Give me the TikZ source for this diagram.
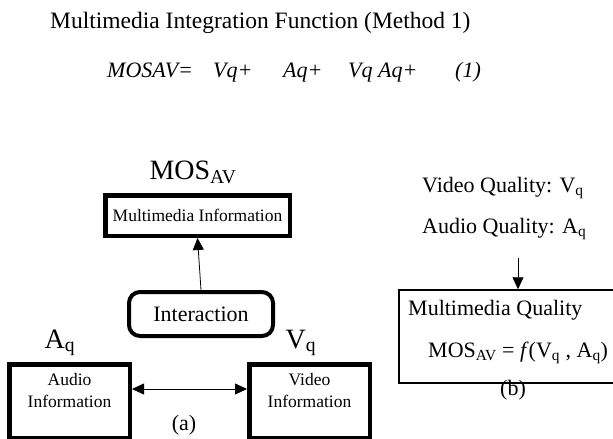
\documentclass[tikz,border=0pt]{standalone}
\usepackage{fontspec}
\setmainfont{Liberation Serif}
\usetikzlibrary{arrows.meta,calc}
\tikzset{
  big/.style={font=\fontsize{22}{26}\selectfont},
  huge/.style={font=\fontsize{28}{32}\selectfont},
  small/.style={font=\fontsize{17.5}{22}\selectfont},
  eq/.style={font=\fontsize{22}{26}\selectfont\itshape, anchor=base west, inner sep=0},
  conn/.style={line width=0.8pt, -{Triangle[width=11pt,length=12pt]}},
  dconn/.style={line width=0.8pt, {Triangle[width=11pt,length=12pt]}-{Triangle[width=11pt,length=12pt]}},
}
\begin{document}
\begin{tikzpicture}[x=1pt,y=-1pt]
\clip (0,0) rectangle (613,439);
\fill[white] (0,0) rectangle (613,439);

% title and equation
\node[font=\fontsize{23.5}{28}\selectfont, anchor=base west, inner sep=0] (title) at (50,28) {Multimedia Integration Function (Method 1)};
\node[eq] (e1) at (107,77) {MOSAV=};
\node[eq] (e2) at (213,77) {Vq+};
\node[eq] (e3) at (283,77) {Aq+};
\node[eq] (e4) at (348,77) {Vq Aq+};
\node[eq] (e5) at (455,77) {(1)};

% (a) part
\node[huge, anchor=base, inner sep=0] (mosl) at (193,179) {MOS\textsubscript{AV}};
\node[draw, line width=4.5pt, minimum width=184.5pt, minimum height=40.5pt, inner sep=0, small] (mmi) at (197.5,215.5) {Multimedia Information};
\node[draw, line width=4pt, rounded corners=11pt, minimum width=144pt, minimum height=44pt, inner sep=0, big] (inter) at (201,314) {Interaction};
\draw[conn] (inter.north) -- (mmi.south);

\node[huge, anchor=base, inner sep=0] (aql) at (60,348) {A\textsubscript{q}};
\node[huge, anchor=base, inner sep=0] (vql) at (301,348) {V\textsubscript{q}};

\node[draw, line width=4.5pt, minimum width=120.5pt, minimum height=73.5pt, inner sep=0] (audio) at (69.5,401) {};
\node[draw, line width=4.5pt, minimum width=120.5pt, minimum height=73.5pt, inner sep=0] (video) at (309.5,401) {};
\node[small, align=center, inner sep=0] (audiot) at (69.5,391) {Audio\\Information};
\node[small, align=center, inner sep=0] (videot) at (309.5,391) {Video\\Information};
\draw[dconn] ([yshift=12pt]audio.east) -- ([yshift=12pt]video.west);
\node[big, inner sep=0] (la) at (184,425) {(a)};

% (b) part
\node[big, anchor=base west, inner sep=0] (vqual) at (422,192) {Video Quality: V\textsubscript{q}};
\node[big, anchor=base west, inner sep=0] (aqual) at (422,233) {Audio Quality: A\textsubscript{q}};
\node[draw, line width=1.5pt, minimum width=221pt, minimum height=93pt, inner sep=0] (mq) at (509.5,336.5) {};
\coordinate (atop) at (518,258);
\draw[conn] (atop) -- (atop |- mq.north);
\node[big, anchor=base west, inner sep=0] (mqt) at (408,315) {Multimedia Quality};
\node[big, anchor=base west, inner sep=0] (mqf) at (428,357) {MOS\textsubscript{AV} = \textit{f}(V\textsubscript{q} , A\textsubscript{q})};
\node[big, inner sep=0] (lb) at (513,390) {(b)};
\end{tikzpicture}
\end{document}
